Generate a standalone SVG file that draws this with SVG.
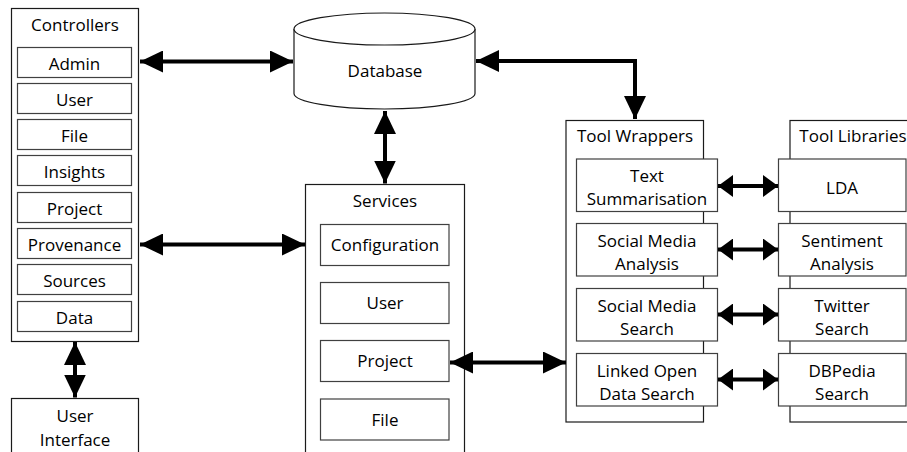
<svg xmlns="http://www.w3.org/2000/svg" width="907" height="452" viewBox="0 0 907 452">
<style>
.outer{fill:#fff;stroke:#1a1a1a;stroke-width:1.2}
.inner{fill:#fff;stroke:#404040;stroke-width:1.2}
text{font-family:"Open Sans","Noto Sans","Liberation Sans",sans-serif;font-size:17px;fill:#000;text-anchor:middle}
.conn{fill:none;stroke:#000;stroke-width:4}
</style>
<defs>
<marker id="big" markerUnits="userSpaceOnUse" markerWidth="23" markerHeight="22" refX="23" refY="11" orient="auto-start-reverse" viewBox="0 0 23 22">
<path d="M0,0 L23,11 L0,22 Z" fill="#000"/>
</marker>
<marker id="small" markerUnits="userSpaceOnUse" markerWidth="15" markerHeight="22" refX="15" refY="11" orient="auto-start-reverse" viewBox="0 0 15 22">
<path d="M0,0 L15,11 L0,22 Z" fill="#000"/>
</marker>
</defs>
<rect width="907" height="452" fill="#fff"/>

<g id="controllers">
<rect class="outer" x="11.5" y="8.5" width="127" height="333"/>
<text x="75" y="31">Controllers</text>
<rect class="inner" x="17.5" y="47.5" width="114" height="30"/><text x="74.5" y="69.5">Admin</text>
<rect class="inner" x="17.5" y="83.5" width="114" height="30"/><text x="74.5" y="105.5">User</text>
<rect class="inner" x="17.5" y="119.5" width="114" height="30"/><text x="74.5" y="141.5">File</text>
<rect class="inner" x="17.5" y="155.5" width="114" height="30"/><text x="74.5" y="177.5">Insights</text>
<rect class="inner" x="17.5" y="192.5" width="114" height="30"/><text x="74.5" y="214.5">Project</text>
<rect class="inner" x="17.5" y="228.5" width="114" height="30"/><text x="74.5" y="250.5">Provenance</text>
<rect class="inner" x="17.5" y="264.5" width="114" height="30"/><text x="74.5" y="286.5">Sources</text>
<rect class="inner" x="17.5" y="301.5" width="114" height="30"/><text x="74.5" y="323.5">Data</text>
</g>

<g id="user-interface">
<rect class="outer" x="11.5" y="398.5" width="127" height="70"/>
<text x="75" y="422">User</text>
<text x="75" y="445.5">Interface</text>
</g>

<g id="database">
<path class="outer" d="M294,29 A90.5,16 0 0,1 475,29 L475,93.5 A90.5,15.5 0 0,1 294,93.5 Z"/>
<path class="outer" fill="none" d="M294,29 A90.5,16 0 0,0 475,29"/>
<text x="385" y="76.5">Database</text>
</g>

<g id="services">
<rect class="outer" x="305.5" y="184.5" width="159" height="290"/>
<text x="385" y="206.5">Services</text>
<rect class="inner" x="320.5" y="224.5" width="128.5" height="41"/><text x="385" y="251">Configuration</text>
<rect class="inner" x="320.5" y="282.5" width="128.5" height="41"/><text x="385" y="309">User</text>
<rect class="inner" x="320.5" y="340.5" width="128.5" height="41"/><text x="385" y="367">Project</text>
<rect class="inner" x="320.5" y="399" width="128.5" height="41"/><text x="385" y="425.5">File</text>
</g>

<g id="tool-wrappers">
<rect class="outer" x="566" y="120.5" width="137.5" height="301.5"/>
<text x="635" y="141.5">Tool Wrappers</text>
<rect class="inner" x="576.5" y="159" width="141" height="52.5"/>
<text x="647" y="182">Text</text><text x="647" y="205">Summarisation</text>
<rect class="inner" x="576.5" y="223.5" width="141" height="52.5"/>
<text x="647" y="246.5">Social Media</text><text x="647" y="269.5">Analysis</text>
<rect class="inner" x="576.5" y="288.5" width="141" height="52.5"/>
<text x="647" y="311.5">Social Media</text><text x="647" y="334.5">Search</text>
<rect class="inner" x="576.5" y="353.5" width="141" height="52.5"/>
<text x="647" y="376.5">Linked Open</text><text x="647" y="399.5">Data Search</text>
</g>

<g id="tool-libraries">
<rect class="outer" x="790" y="120.5" width="140" height="301.5"/>
<text x="853" y="141.5">Tool Libraries</text>
<rect class="inner" x="778.5" y="159" width="127.5" height="52.5"/>
<text x="842" y="193.5">LDA</text>
<rect class="inner" x="778.5" y="223.5" width="127.5" height="52.5"/>
<text x="842" y="246.5">Sentiment</text><text x="842" y="269.5">Analysis</text>
<rect class="inner" x="778.5" y="288.5" width="127.5" height="52.5"/>
<text x="842" y="311.5">Twitter</text><text x="842" y="334.5">Search</text>
<rect class="inner" x="778.5" y="353.5" width="127.5" height="52.5"/>
<text x="842" y="376.5">DBPedia</text><text x="842" y="399.5">Search</text>
</g>

<g id="connectors">
<path class="conn" d="M140,61.5 L293,61.5" marker-start="url(#big)" marker-end="url(#big)"/>
<path class="conn" d="M476,61 L635,61 L635,119" marker-start="url(#big)" marker-end="url(#big)"/>
<path class="conn" d="M385,111 L385,183.5" marker-start="url(#big)" marker-end="url(#big)"/>
<path class="conn" d="M140,244.5 L305,244.5" marker-start="url(#big)" marker-end="url(#big)"/>
<path class="conn" d="M450,362.5 L566,362.5" marker-start="url(#big)" marker-end="url(#big)"/>
<path class="conn" d="M75,342 L75,397.5" marker-start="url(#big)" marker-end="url(#big)"/>
<path class="conn" d="M718,186 L778,186" marker-start="url(#small)" marker-end="url(#small)"/>
<path class="conn" d="M718,249.5 L778,249.5" marker-start="url(#small)" marker-end="url(#small)"/>
<path class="conn" d="M718,314.5 L778,314.5" marker-start="url(#small)" marker-end="url(#small)"/>
<path class="conn" d="M718,379.5 L778,379.5" marker-start="url(#small)" marker-end="url(#small)"/>
</g>
</svg>
